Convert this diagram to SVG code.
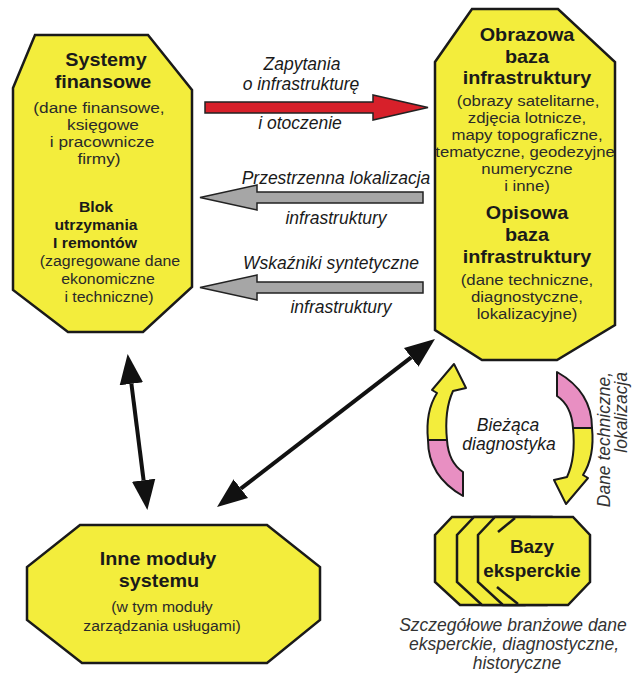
<svg xmlns="http://www.w3.org/2000/svg" width="638" height="682" viewBox="0 0 638 682">
<defs>
<style>
.node{fill:#f3ed3c;stroke:#1a1a1a;stroke-width:2.5;stroke-linejoin:miter}
.t{font-family:"Liberation Sans",Arial,sans-serif;text-anchor:middle}
.b{font-weight:bold;font-size:18px;fill:#1a1a1a}
.bs{font-weight:bold;font-size:15px;fill:#1a1a1a}
.r{font-size:15px;fill:#2a2a2a}
.lbl{font-style:italic;font-size:17.5px;fill:#1a1a1a}
.blk{fill:none;stroke:#111;stroke-width:4}
.yel{fill:#f3ed3c;stroke:#1a1a1a;stroke-width:2;stroke-linejoin:round}
.pnk{fill:#e88fc2;stroke:#1a1a1a;stroke-width:2;stroke-linejoin:round}
</style>
<marker id="ah" markerUnits="userSpaceOnUse" markerWidth="30" markerHeight="24" viewBox="0 0 28 22" refX="0" refY="11" orient="auto-start-reverse">
<path d="M0,0 L28,11 L0,22 Z" fill="#111"/>
</marker>
</defs>
<rect width="638" height="682" fill="#fff"/>

<g id="connectors">
<polygon points="205,102 373,102 373,95 428,107.5 373,120 373,113 205,113" fill="#d7202a" stroke="#222" stroke-width="1.5"/>
<polygon points="423,192 257,192 257,185 200,197.5 257,210 257,203 423,203" fill="#a6a6a6" stroke="#222" stroke-width="1.5"/>
<polygon points="423,282 257,282 257,275 200,287.5 257,300 257,293 423,293" fill="#a6a6a6" stroke="#222" stroke-width="1.5"/>
<line class="blk" x1="131.4" y1="383.8" x2="143.6" y2="480.2" marker-start="url(#ah)" marker-end="url(#ah)"/>
<line class="blk" x1="240.8" y1="488.7" x2="411.2" y2="357.3" marker-start="url(#ah)" marker-end="url(#ah)"/>
<g id="cycle-left">
<path class="yel" d="M428,440 C426,420 430,404 437,393 L432,390 L454,364 L466,388 L453,391 C447,404 445,420 447,440 Z"/>
<path class="pnk" d="M428,440 C428,465 440,483 463,496 L463,472 C454,466 448,455 447,440 Z"/>
</g>
<g id="cycle-right" transform="rotate(180 510 434)">
<path class="yel" d="M428,440 C426,420 430,404 437,393 L432,390 L454,364 L466,388 L453,391 C447,404 445,420 447,440 Z"/>
<path class="pnk" d="M428,440 C428,465 440,483 463,496 L463,472 C454,466 448,455 447,440 Z"/>
</g>
</g>

<g id="labels">
<text class="t lbl" x="302" y="70">Zapytania</text>
<text class="t lbl" x="301" y="90">o infrastrukturę</text>
<text class="t lbl" x="300" y="129">i otoczenie</text>
<text class="t lbl" x="336" y="184">Przestrzenna lokalizacja</text>
<text class="t lbl" x="336" y="224">infrastruktury</text>
<text class="t lbl" x="331" y="269">Wskaźniki syntetyczne</text>
<text class="t lbl" x="341" y="313">infrastruktury</text>
<text class="t lbl" x="508" y="431">Bieżąca</text>
<text class="t lbl" x="509" y="450">diagnostyka</text>
<text class="t lbl" transform="translate(610,372) rotate(-90)" x="0" y="0" style="text-anchor:end;fill:#333">Dane techniczne,</text>
<text class="t lbl" transform="translate(627,372) rotate(-90)" x="0" y="0" style="text-anchor:end;fill:#333">lokalizacja</text>
<text class="t lbl" x="513" y="631" style="fill:#333">Szczegółowe branżowe dane</text>
<text class="t lbl" x="514" y="650" style="fill:#333">eksperckie, diagnostyczne,</text>
<text class="t lbl" x="517" y="669" style="fill:#333">historyczne</text>
</g>

<g id="systemy-finansowe">
<path class="node" d="M35,35 L148,35 L192,90 L192,287 L143,332 L68,332 L13,290 L13,88 Z"/>
<text class="t b" transform="translate(106,66) scale(1.1,1)">Systemy</text>
<text class="t b" transform="translate(103,88) scale(1.1,1)">finansowe</text>
<text class="t r" transform="translate(99,113) scale(1.15,1)">(dane finansowe,</text>
<text class="t r" transform="translate(103,130) scale(1.15,1)">księgowe</text>
<text class="t r" transform="translate(102,147) scale(1.15,1)">i pracownicze</text>
<text class="t r" transform="translate(99,164) scale(1.15,1)">firmy)</text>
<text class="t bs" transform="translate(96,212) scale(1.05,1)">Blok</text>
<text class="t bs" transform="translate(96,230) scale(1.05,1)">utrzymania</text>
<text class="t bs" transform="translate(95,248) scale(1.05,1)">I remontów</text>
<text class="t r" transform="translate(110,266) scale(1.06,1)">(zagregowane dane</text>
<text class="t r" transform="translate(108,284) scale(1.06,1)">ekonomiczne</text>
<text class="t r" transform="translate(109,302) scale(1.06,1)">i techniczne)</text>
</g>

<g id="bazy-infrastruktury">
<path class="node" d="M472,9 L558,9 L615,62 L615,325 L557,360 L482,360 L435,330 L435,62 Z"/>
<text class="t b" transform="translate(527,41) scale(1.1,1)">Obrazowa</text>
<text class="t b" transform="translate(527,63) scale(1.1,1)">baza</text>
<text class="t b" transform="translate(527,84) scale(1.1,1)">infrastruktury</text>
<text class="t r" transform="translate(528,106) scale(1.12,1)">(obrazy satelitarne,</text>
<text class="t r" transform="translate(527,123) scale(1.12,1)">zdjęcia lotnicze,</text>
<text class="t r" transform="translate(527,140) scale(1.12,1)">mapy topograficzne,</text>
<text class="t r" transform="translate(525,157) scale(1.11,1)">tematyczne, geodezyjne</text>
<text class="t r" transform="translate(527,174) scale(1.12,1)">numeryczne</text>
<text class="t r" transform="translate(527,191) scale(1.12,1)">i inne)</text>
<text class="t b" transform="translate(527,219) scale(1.1,1)">Opisowa</text>
<text class="t b" transform="translate(527,241) scale(1.1,1)">baza</text>
<text class="t b" transform="translate(527,263) scale(1.1,1)">infrastruktury</text>
<text class="t r" transform="translate(527,285) scale(1.12,1)">(dane techniczne,</text>
<text class="t r" transform="translate(527,302) scale(1.12,1)">diagnostyczne,</text>
<text class="t r" transform="translate(527,319) scale(1.12,1)">lokalizacyjne)</text>
</g>

<g id="inne-moduly">
<path class="node" d="M80,525 L267,525 L320,567 L320,620 L267,663 L82,663 L27,620 L27,567 Z"/>
<text class="t b" transform="translate(158,565) scale(1.1,1)">Inne moduły</text>
<text class="t b" transform="translate(159,587) scale(1.1,1)">systemu</text>
<text class="t r" transform="translate(162,612) scale(1.05,1)">(w tym moduły</text>
<text class="t r" transform="translate(162,631) scale(1.05,1)">zarządzania usługami)</text>
</g>

<g id="bazy-eksperckie">
<path class="node" d="M452,517 L530,517 L547,535 L547,582 L525,605 L460,605 L435,582 L435,535 Z"/>
<path class="node" d="M474,517 L552,517 L569,535 L569,582 L547,605 L482,605 L457,582 L457,535 Z"/>
<path class="node" d="M495,517 L573,517 L590,535 L590,582 L568,605 L503,605 L478,582 L478,535 Z"/>
<line x1="498" y1="532" x2="515" y2="518" stroke="#1a1a1a" stroke-width="2.5"/>
<line x1="497" y1="587" x2="518" y2="604" stroke="#1a1a1a" stroke-width="2.5"/>
<text class="t b" transform="translate(532,553) scale(1.05,1)">Bazy</text>
<text class="t b" transform="translate(532,577) scale(1.05,1)">eksperckie</text>
</g>
</svg>
